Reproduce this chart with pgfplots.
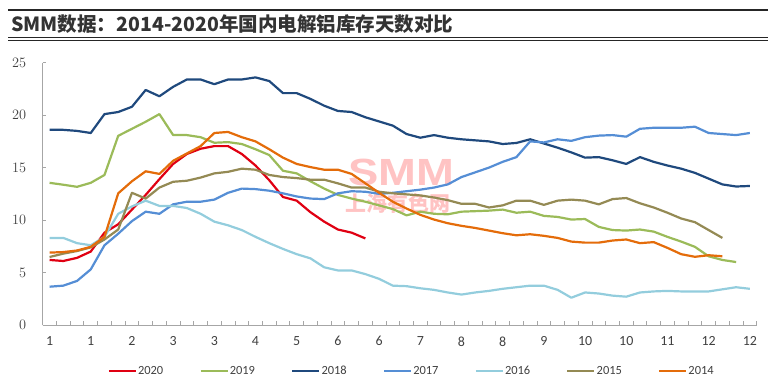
\documentclass[border=0pt]{standalone}
\usepackage{fontspec}
\setmainfont{Carlito}
\newfontfamily\cjk{Noto Sans CJK SC}
\newfontfamily\wmfont{Liberation Sans}
\usepackage{pgfplots}
\pgfplotsset{compat=1.18}
\definecolor{c2020}{RGB}{224,0,18}
\definecolor{c2019}{RGB}{155,187,89}
\definecolor{c2018}{RGB}{31,73,125}
\definecolor{c2017}{RGB}{85,142,213}
\definecolor{c2016}{RGB}{147,205,221}
\definecolor{c2015}{RGB}{148,138,84}
\definecolor{c2014}{RGB}{228,108,10}
\definecolor{axgray}{RGB}{166,166,166}
\definecolor{lblgray}{RGB}{64,64,64}
\definecolor{wmpink}{RGB}{255,195,195}
\begin{document}
\begin{tikzpicture}
\useasboundingbox (0bp,0bp) rectangle (774bp,391bp);
\draw[line width=1.2bp, black!85] (8bp,381bp) -- (768bp,381bp);
\draw[line width=1.2bp, black!85] (8bp,353.5bp) -- (768bp,353.5bp);
\draw[line width=0.7bp, black!85] (8bp,351bp) -- (768bp,351bp);
\node[anchor=west, inner sep=0pt, text=black!80, font=\cjk\bfseries\fontsize{19.6}{23}\selectfont] at (11bp,366.5bp) {SMM数据：2014-2020年国内电解铝库存天数对比};
\node[text=wmpink, font=\wmfont\bfseries\fontsize{38}{40}\selectfont, xscale=1.2, inner sep=0pt] at (401bp,219bp) {SMM};
\node[text=wmpink, font=\cjk\bfseries\fontsize{21}{23}\selectfont, inner sep=0pt] at (398bp,187.5bp) {上海有色网};
\begin{axis}[
  at={(42.7bp,66bp)}, anchor=south west,
  scale only axis, width=714bp, height=262.3bp,
  xmin=-0.5, xmax=51.5, ymin=0, ymax=25,
  axis x line*=bottom, axis y line*=left,
  axis line style={draw=axgray, line width=0.8bp, -},
  ytick={0,5,10,15,20,25},
  xtick={0,3,...,51},
  xticklabels={1,1,2,3,3,4,5,6,6,7,8,8,9,10,10,11,12,12},
  minor xtick={-0.5,0.5,...,51.5},
  major x tick style={draw=none},
  tick align=inside,
  minor tick length=4bp, major tick length=3bp,
  tick style={draw=axgray, line width=0.8bp},
  ticklabel style={font=\fontsize{14}{16}\selectfont, text=lblgray},
  xticklabel style={yshift=-8bp},
  yticklabel style={xshift=-13bp},
  legend columns=7,
  legend style={at={(0.516,-0.175)}, anchor=center, draw=none, fill=none,
    font=\fontsize{12.5}{14}\selectfont, text=lblgray,
    nodes={inner xsep=1bp},
    /tikz/every even column/.append style={column sep=35bp}},
  legend image code/.code={\draw[#1, line width=2.5bp] (0bp,0bp) -- (27bp,0bp);},
  every axis plot/.append style={line width=2.2bp, no markers, line join=round},
]
\addplot[c2020] coordinates {(0,6.2)(1,6.1)(2,6.4)(3,7.0)(4,8.8)(5,9.6)(6,11.0)(7,12.4)(8,13.9)(9,15.35)(10,16.3)(11,16.8)(12,17.05)(13,17.05)(14,16.3)(15,15.2)(16,13.8)(17,12.2)(18,11.85)(19,10.75)(20,9.85)(21,9.1)(22,8.8)(23,8.25)};
\addlegendentry{2020}
\addplot[c2019] coordinates {(0,13.55)(1,13.37)(2,13.17)(3,13.55)(4,14.3)(5,18.03)(6,18.7)(7,19.37)(8,20.1)(9,18.1)(10,18.1)(11,17.9)(12,17.37)(13,17.43)(14,17.25)(15,16.75)(16,16.2)(17,14.7)(18,14.45)(19,13.7)(20,13.0)(21,12.4)(22,12.05)(23,11.75)(24,11.4)(25,11.05)(26,10.45)(27,10.8)(28,10.6)(29,10.55)(30,10.8)(31,10.85)(32,10.9)(33,11.0)(34,10.7)(35,10.8)(36,10.4)(37,10.3)(38,10.05)(39,10.1)(40,9.35)(41,9.05)(42,9.0)(43,9.1)(44,8.9)(45,8.4)(46,7.95)(47,7.45)(48,6.55)(49,6.2)(50,6.0)};
\addlegendentry{2019}
\addplot[c2018] coordinates {(0,18.6)(1,18.6)(2,18.5)(3,18.3)(4,20.1)(5,20.3)(6,20.8)(7,22.4)(8,21.8)(9,22.7)(10,23.4)(11,23.4)(12,22.95)(13,23.4)(14,23.4)(15,23.6)(16,23.25)(17,22.1)(18,22.1)(19,21.55)(20,20.9)(21,20.4)(22,20.3)(23,19.8)(24,19.4)(25,19.0)(26,18.2)(27,17.85)(28,18.1)(29,17.85)(30,17.7)(31,17.6)(32,17.5)(33,17.25)(34,17.35)(35,17.7)(36,17.3)(37,16.9)(38,16.45)(39,15.95)(40,16.0)(41,15.7)(42,15.35)(43,16.0)(44,15.55)(45,15.2)(46,14.9)(47,14.5)(48,13.95)(49,13.4)(50,13.2)(51,13.25)};
\addlegendentry{2018}
\addplot[c2017] coordinates {(0,3.65)(1,3.75)(2,4.2)(3,5.3)(4,7.6)(5,8.7)(6,9.9)(7,10.8)(8,10.6)(9,11.5)(10,11.75)(11,11.75)(12,11.95)(13,12.6)(14,13.0)(15,12.95)(16,12.8)(17,12.55)(18,12.25)(19,12.05)(20,12.0)(21,12.55)(22,12.75)(23,12.7)(24,12.5)(25,12.6)(26,12.75)(27,12.9)(28,13.1)(29,13.4)(30,14.1)(31,14.55)(32,15.0)(33,15.55)(34,16.0)(35,17.5)(36,17.4)(37,17.7)(38,17.55)(39,17.9)(40,18.05)(41,18.1)(42,17.95)(43,18.7)(44,18.8)(45,18.8)(46,18.8)(47,18.9)(48,18.3)(49,18.2)(50,18.1)(51,18.3)};
\addlegendentry{2017}
\addplot[c2016] coordinates {(0,8.3)(1,8.3)(2,7.8)(3,7.6)(4,8.4)(5,10.6)(6,11.3)(7,11.85)(8,11.35)(9,11.35)(10,11.15)(11,10.6)(12,9.85)(13,9.5)(14,9.05)(15,8.4)(16,7.8)(17,7.25)(18,6.75)(19,6.35)(20,5.5)(21,5.2)(22,5.2)(23,4.85)(24,4.4)(25,3.75)(26,3.7)(27,3.5)(28,3.35)(29,3.1)(30,2.9)(31,3.1)(32,3.25)(33,3.45)(34,3.6)(35,3.75)(36,3.75)(37,3.35)(38,2.6)(39,3.1)(40,3.0)(41,2.8)(42,2.7)(43,3.1)(44,3.2)(45,3.25)(46,3.2)(47,3.2)(48,3.2)(49,3.4)(50,3.6)(51,3.45)};
\addlegendentry{2016}
\addplot[c2015] coordinates {(0,6.48)(1,6.8)(2,7.05)(3,7.4)(4,8.15)(5,9.1)(6,12.6)(7,12.05)(8,13.1)(9,13.65)(10,13.75)(11,14.05)(12,14.45)(13,14.6)(14,14.9)(15,14.8)(16,14.3)(17,14.1)(18,14.0)(19,13.85)(20,13.85)(21,13.5)(22,13.1)(23,13.1)(24,12.7)(25,12.55)(26,12.45)(27,12.35)(28,12.15)(29,11.9)(30,11.55)(31,11.55)(32,11.2)(33,11.4)(34,11.85)(35,11.85)(36,11.45)(37,11.85)(38,11.95)(39,11.85)(40,11.5)(41,12.0)(42,12.1)(43,11.6)(44,11.2)(45,10.7)(46,10.15)(47,9.8)(48,9.05)(49,8.3)};
\addlegendentry{2015}
\addplot[c2014] coordinates {(0,6.9)(1,6.95)(2,7.1)(3,7.45)(4,8.4)(5,12.55)(6,13.7)(7,14.65)(8,14.4)(9,15.65)(10,16.35)(11,17.05)(12,18.3)(13,18.4)(14,17.9)(15,17.5)(16,16.75)(17,15.95)(18,15.35)(19,15.05)(20,14.8)(21,14.8)(22,14.4)(23,13.5)(24,12.6)(25,11.75)(26,11.1)(27,10.5)(28,10.05)(29,9.7)(30,9.45)(31,9.25)(32,9.0)(33,8.75)(34,8.55)(35,8.65)(36,8.5)(37,8.3)(38,7.95)(39,7.85)(40,7.85)(41,8.05)(42,8.15)(43,7.8)(44,7.9)(45,7.35)(46,6.75)(47,6.5)(48,6.65)(49,6.55)};
\addlegendentry{2014}
\end{axis}
\end{tikzpicture}
\end{document}
